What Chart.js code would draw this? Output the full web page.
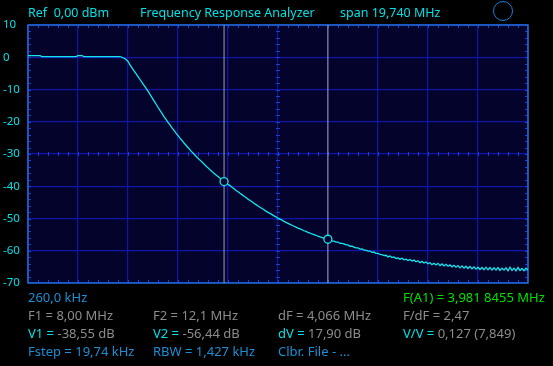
<!DOCTYPE html>
<html>
<head>
<meta charset="utf-8">
<script src="https://cdn.jsdelivr.net/npm/chart.js@4"></script>
<style>
  html, body { margin: 0; padding: 0; background: #000; }
  #wrap { position: relative; width: 553px; height: 366px; overflow: hidden; background: #000; }
  canvas { position: absolute; left: 0; top: 0; }
  .t { position: absolute; font-family: "Noto Sans", sans-serif; font-size: 13px; line-height: 13px; white-space: pre; }
  .top { font-size: 12.5px; line-height: 12.5px; top: 7px; color: #00e0e6; }
  .cy { color: #00e0e6; }
  .gr { color: #8c8c8c; }
  .bl { color: #1a8fd6; }
  .gn { color: #00e000; }
  #ring { position: absolute; left: 493px; top: 1px; width: 18px; height: 18px; border: 1.3px solid #1a7fd6; border-radius: 50%; }
</style>
</head>
<body>
<div id="wrap">
  <canvas id="c" width="553" height="366"></canvas>
  <div class="t top" style="left:28px">Ref  0,00 dBm</div>
  <div class="t top" style="left:140px">Frequency Response Analyzer</div>
  <div class="t top" style="left:340px">span 19,740 MHz</div>
  <div id="ring"></div>

  <div class="t bl" style="left:28px;top:291px">260,0 kHz</div>
  <div class="t gn" style="left:403px;top:291px">F(A1) = 3,981 8455 MHz</div>

  <div class="t gr" style="left:28px;top:309px">F1 = 8,00 MHz</div>
  <div class="t gr" style="left:153px;top:309px">F2 = 12,1 MHz</div>
  <div class="t gr" style="left:278px;top:309px">dF = 4,066 MHz</div>
  <div class="t gr" style="left:403px;top:309px">F/dF = 2,47</div>

  <div class="t gr" style="left:28px;top:327px"><span class="cy">V1 =</span> -38,55 dB</div>
  <div class="t gr" style="left:153px;top:327px"><span class="cy">V2 =</span> -56,44 dB</div>
  <div class="t gr" style="left:278px;top:327px"><span class="cy">dV =</span> 17,90 dB</div>
  <div class="t gr" style="left:403px;top:327px"><span class="cy">V/V =</span> 0,127 (7,849)</div>

  <div class="t bl" style="left:28px;top:345px">Fstep = 19,74 kHz</div>
  <div class="t bl" style="left:153px;top:345px">RBW = 1,427 kHz</div>
  <div class="t bl" style="left:278px;top:345px">Clbr. File - ...</div>
</div>
<script>
// ---- sweep settings ----
const startMHz = 0.26;
const spanMHz = 19.74;
const sweepStepMHz = 0.07896;   // every 4th sweep point (Fstep = 19,74 kHz)

// ---- measured level, dB, one value per sweep point ----
const levelDb = [
  0.5,0.5,0.5,0.5,0.5,0.5,0.5,
  0.2,0.2,0.2,0.2,0.2,0.2,0.2,0.2,0.2,0.2,0.2,0.2,0.2,0.2,0.2,0.2,0.2,0.2,
  0.5,0.5,0.5,
  0.2,0.2,0.2,0.2,0.2,0.2,0.2,0.2,0.2,0.2,0.2,0.2,0.2,0.2,0.2,0.2,0.2,0.2,0.2,
  0.0,-0.3,-0.7,-1.3,-2.4,-3.3,-4.2,-5.1,-6.0,-6.9,-7.8,-8.7,-9.6,-10.5,-11.5,-12.5,
  -13.5,-14.5,-15.5,-16.5,-17.4,-18.4,-19.3,-20.2,-21.0,-21.9,-22.7,-23.5,-24.3,-25.1,
  -25.8,-26.6,-27.3,-28.0,-28.7,-29.4,-30.0,-30.7,-31.3,-31.9,-32.5,-33.1,-33.7,-34.3,
  -34.9,-35.4,-36.0,-36.5,-37.0,-37.5,-37.9,-38.4,
  -38.9,-39.4,-39.8,-40.3,-40.8,-41.3,-41.7,-42.2,-42.6,-43.1,-43.5,-44.0,-44.4,-44.8,
  -45.3,-45.7,-46.1,-46.5,-46.9,-47.3,-47.7,-48.1,-48.4,-48.8,-49.2,-49.5,-49.9,-50.2,
  -50.5,-50.9,-51.2,-51.5,-51.8,-52.1,-52.4,-52.7,-53.0,-53.2,-53.5,-53.8,-54.0,-54.3,
  -54.5,-54.8,-55.0,-55.2,-55.5,-55.7,-55.9,-56.1,-56.3,-56.5,
  -56.6,-57.0,-57.0,-57.3,-57.3,-57.7,-57.7,-57.9,-58.2,-58.2,
  -58.6,-58.6,-58.9,-59.1,-59.1,-59.5,-59.4,-59.8,-59.8,-60.1,
  -60.1,-60.5,-60.4,-60.8,-60.8,-61.1,-61.2,-61.5,-61.4,-61.9,
  -61.6,-62.1,-61.9,-62.4,-62.2,-62.6,-62.3,-62.8,-62.6,-63.0,
  -62.7,-63.2,-62.9,-63.4,-63.1,-63.7,-63.3,-63.8,-63.5,-64.0,
  -63.7,-64.3,-63.9,-64.4,-63.9,-64.6,-64.1,-64.7,-64.2,-64.8,
  -64.4,-65.0,-64.5,-65.1,-64.6,-65.3,-64.7,-65.4,-64.8,-65.5,
  -64.9,-65.6,-65.0,-65.7,-65.1,-65.8,-65.2,-65.9,-65.1,-65.9,
  -65.2,-66.0,-65.3,-66.0,-65.2,-66.1,-65.4,-66.0,-65.3,-66.2,
  -65.1,-66.1,-65.4,-66.2,-65.2,-66.1,-65.5,-66.2,-65.4,-66.0
];

// ---- markers ----
const markerFreqMHz = [8.00, 12.1];
const markerLevelDb = [-38.55, -56.44];

// ---- axes ----
const yMinDb = -70, yMaxDb = 10, yStepDb = 10;
const xDivisions = 10;

const tracePoints = levelDb.map((v, i) => ({ x: startMHz + i * sweepStepMHz, y: v }));
const markerPoints = markerFreqMHz.map((f, i) => ({ x: f, y: markerLevelDb[i] }));
const markerLines = markerFreqMHz.map(f => [{ x: f, y: yMinDb }, { x: f, y: yMaxDb }]);

const GRID = '#1016a8';
const FRAME = '#1f6fd8';

const screenPlugin = {
  id: 'screen',
  beforeDraw(chart) {
    const { ctx, chartArea: a } = chart;
    ctx.save();
    ctx.fillStyle = '#000';
    ctx.fillRect(0, 0, chart.width, chart.height);
    ctx.fillStyle = '#03032c';
    ctx.fillRect(a.left, a.top, a.right - a.left, a.bottom - a.top);
    ctx.restore();
  },
  beforeDatasetsDraw(chart) {
    const { ctx, chartArea: a, scales: { x, y } } = chart;
    ctx.save();
    ctx.lineWidth = 1;
    const xDiv = spanMHz / xDivisions;
    const xMid = x.getPixelForValue(startMHz + xDiv * 5);
    const yMid = y.getPixelForValue(-30);
    ctx.strokeStyle = '#1a3fd0';
    ctx.beginPath();
    for (let m = 1; m < xDivisions * 5; m++) {
      const px = Math.round(x.getPixelForValue(startMHz + m * xDiv / 5)) + 0.5;
      ctx.moveTo(px, a.top); ctx.lineTo(px, a.top + 3);
      ctx.moveTo(px, a.bottom); ctx.lineTo(px, a.bottom - 3);
      ctx.moveTo(px, yMid - 2); ctx.lineTo(px, yMid + 2);
    }
    for (let m = 1; m < 8 * 5; m++) {
      const py = Math.round(y.getPixelForValue(yMinDb + m * yStepDb / 5)) + 0.5;
      ctx.moveTo(a.left, py); ctx.lineTo(a.left + 3, py);
      ctx.moveTo(a.right, py); ctx.lineTo(a.right - 3, py);
      ctx.moveTo(xMid - 2, py); ctx.lineTo(xMid + 2, py);
    }
    ctx.stroke();
    ctx.strokeStyle = FRAME;
    ctx.lineWidth = 1.5;
    ctx.strokeRect(a.left, a.top, a.right - a.left, a.bottom - a.top);
    ctx.restore();
  }
};

new Chart(document.getElementById('c'), {
  type: 'line',
  data: {
    datasets: [
      { data: markerLines[0], borderColor: '#a0a0a0', borderWidth: 1, pointRadius: 0, order: 3 },
      { data: markerLines[1], borderColor: '#a0a0a0', borderWidth: 1, pointRadius: 0, order: 3 },
      { data: tracePoints, borderColor: '#14e6ee', borderWidth: 1.3, pointRadius: 0, tension: 0, order: 2 },
      { data: markerPoints, showLine: false, pointRadius: 4, pointStyle: 'circle',
        pointBorderColor: '#14e6ee', pointBackgroundColor: '#03032c', pointBorderWidth: 1.3, order: 1 }
    ]
  },
  options: {
    animation: false,
    responsive: false,
    events: [],
    layout: { padding: { left: 3, top: 25, right: 25, bottom: 83 } },
    plugins: { legend: { display: false }, tooltip: { enabled: false } },
    scales: {
      x: {
        type: 'linear',
        min: startMHz,
        max: startMHz + spanMHz,
        afterBuildTicks(scale) {
          const t = [];
          for (let k = 0; k <= xDivisions; k++) t.push({ value: startMHz + k * spanMHz / xDivisions });
          scale.ticks = t;
        },
        afterFit(scale) { scale.height = 0; },
        ticks: { display: false },
        grid: { color: GRID, lineWidth: 1.2, drawTicks: false },
        border: { display: false }
      },
      y: {
        min: yMinDb,
        max: yMaxDb,
        ticks: {
          stepSize: yStepDb,
          color: '#00e0e6',
          crossAlign: 'far',
          padding: 0,
          font: { family: 'Noto Sans', size: 11.5 }
        },
        afterFit(scale) { scale.width = 25; },
        grid: { color: GRID, lineWidth: 1.2, drawTicks: false },
        border: { display: false }
      }
    }
  },
  plugins: [screenPlugin]
});
</script>
</body>
</html>
